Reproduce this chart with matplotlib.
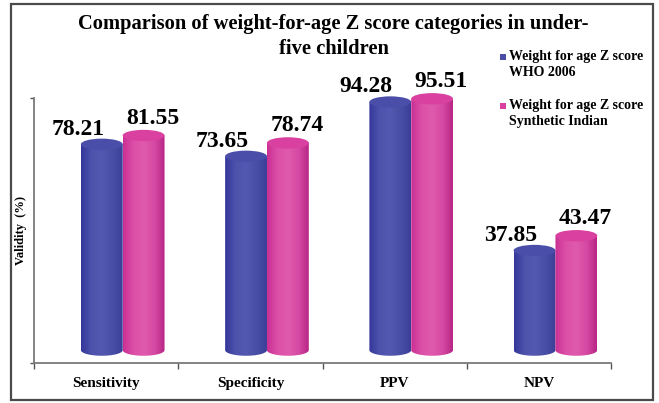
import numpy as np
import matplotlib
matplotlib.use('Agg')
import matplotlib.pyplot as plt
from matplotlib.patches import Ellipse, Rectangle, PathPatch
from matplotlib.path import Path
from matplotlib.colors import LinearSegmentedColormap

# ---------------- data ----------------
categories = ["Sensitivity", "Specificity", "PPV", "NPV"]
series_names = ["Weight for age Z score\nWHO 2006",
                "Weight for age Z score\nSynthetic Indian"]
who_2006 = [78.21, 73.65, 94.28, 37.85]
synthetic_indian = [81.55, 78.74, 95.51, 43.47]
series_values = [who_2006, synthetic_indian]
y_label = "Validity  (%)"
title_lines = ["Comparison of weight-for-age Z score categories in under-",
               "five children"]

plt.rcParams['font.family'] = ['Liberation Serif', 'DejaVu Serif']

W, H = 659, 403
fig = plt.figure(figsize=(W / 100, H / 100), dpi=100)
fig.patch.set_facecolor('white')
ax = fig.add_axes([34 / W, 1 - 363 / H, (611 - 34) / W, (363 - 98) / H])
ax.set_facecolor('none')
ymin, ymax = -4.9, 95.8

styles = [
    dict(offset=-0.03, grad=['#34379a', '#4d52ab', '#5358b0', '#4a4fa6', '#3a3e97'],
         cap='#4a4ea8', dx=-24, dy=15),
    dict(offset=0.26, grad=['#c92f93', '#dc4fa8', '#df5aad', '#d64aa3', '#b82585'],
         cap='#d9409f', dx=9, dy=17),
]
bw = 0.29
cap_h = 4.3
grad = np.linspace(0, 1, 256)[None, :]

for s, (vals, st) in enumerate(zip(series_values, styles)):
    cmap = LinearSegmentedColormap.from_list('g%d' % s, st['grad'])
    for i, v in enumerate(vals):
        xc = i + st['offset']
        x0, x1 = xc - bw / 2, xc + bw / 2
        t = np.linspace(np.pi, 2 * np.pi, 80)
        arc = np.column_stack([xc + bw / 2 * np.cos(t), cap_h / 2 * np.sin(t)])
        verts = np.vstack([[x0, v], arc, [x1, v], [x0, v]])
        codes = [Path.MOVETO] + [Path.LINETO] * (len(verts) - 2) + [Path.CLOSEPOLY]
        body = PathPatch(Path(verts, codes), facecolor='none', edgecolor='none',
                         transform=ax.transData)
        ax.add_patch(body)
        im = ax.imshow(grad, cmap=cmap, extent=(x0, x1, -cap_h / 2, v), aspect='auto',
                       origin='lower', zorder=2 + s, interpolation='bilinear')
        im.set_clip_path(body)
        top = Ellipse((xc, v), bw, cap_h, facecolor=st['cap'], edgecolor='none',
                      zorder=2.5 + s, clip_on=False)
        ax.add_patch(top)
        ax.annotate(f"{v:.2f}", xy=(xc, v), xytext=(st['dx'], st['dy']),
                    textcoords='offset pixels', ha='center', va='center',
                    fontsize=17, fontweight='bold', annotation_clip=False, zorder=10)

ax.set_xlim(-0.5, len(categories) - 0.5)
ax.set_ylim(ymin, ymax)

# axes styling
for side in ['top', 'right']:
    ax.spines[side].set_visible(False)
for side in ['left', 'bottom']:
    ax.spines[side].set_color('#7a7a7a')
    ax.spines[side].set_linewidth(1.3)

ax.set_xticks(np.arange(-0.5, len(categories), 1))
ax.set_xticklabels([])
ax.set_xticks(np.arange(len(categories)), minor=True)
ax.set_xticklabels(categories, minor=True, fontsize=11, fontweight='bold')
ax.tick_params(axis='x', which='minor', length=0, pad=10)
ax.tick_params(axis='x', which='major', direction='out', length=4, color='#555555', width=1)
ax.set_yticks([ymin, ymax])
ax.set_yticklabels([])
ax.tick_params(axis='y', direction='out', length=3, color='#555555', width=1)

ax.set_ylabel(y_label, fontsize=9, fontweight='bold')
ax.yaxis.set_label_coords(-0.012, 0.5)

# title (two centred lines)
for line, base in zip(title_lines, [29, 54]):
    fig.text(0.506, 1 - base / H, line, ha='center', va='baseline', fontsize=14.8,
             fontweight='bold')

# legend
colors = ['#4a4ea8', '#d9409f']
legend_y = [57, 106]
for name, c, yy in zip(series_names, colors, legend_y):
    fig.patches.append(Rectangle((500 / W, 1 - (yy + 3) / H), 6 / W, 6 / H,
                                 transform=fig.transFigure, facecolor=c,
                                 edgecolor='none'))
    fig.text(509 / W, 1 - (yy - 7) / H, name, ha='left', va='top', fontsize=10,
             fontweight='bold', linespacing=1.25)

# outer border
fig.patches.append(Rectangle((11 / W, 1 - 400 / H), (653 - 11) / W, (400 - 4) / H,
                             transform=fig.transFigure, fill=False,
                             edgecolor='#4a4a4a', linewidth=1.6))

fig.savefig('out.png', dpi=100, facecolor='white')
